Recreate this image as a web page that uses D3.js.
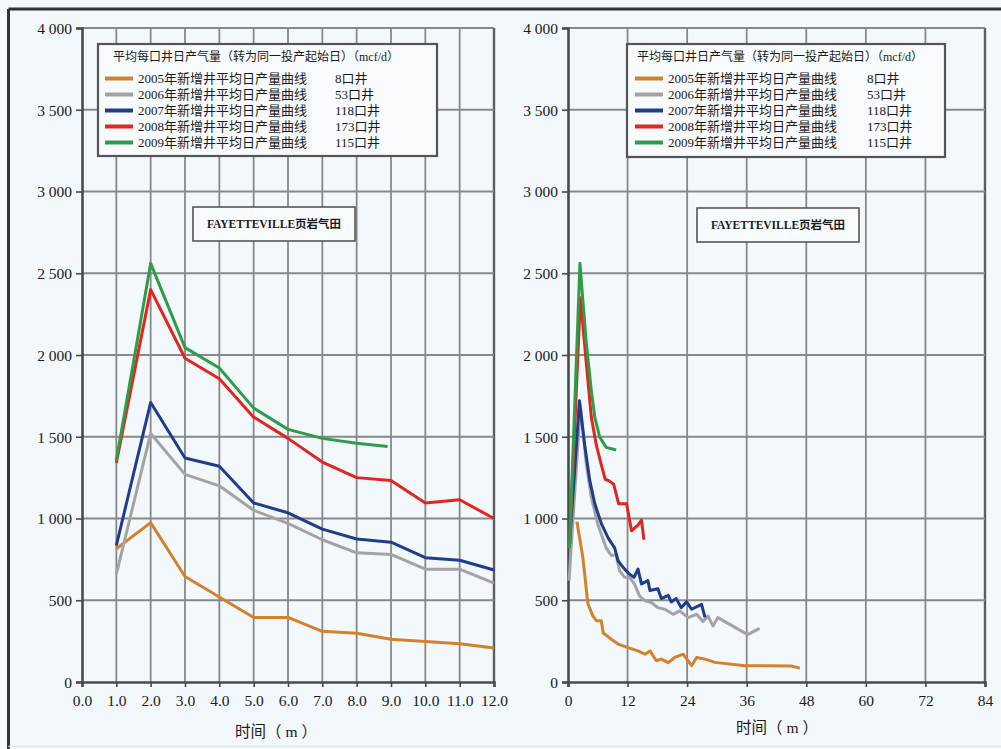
<!DOCTYPE html>
<html><head><meta charset="utf-8">
<script src="https://cdn.jsdelivr.net/npm/d3@7"></script>
<style>
html,body{margin:0;padding:0;background:#f3f8fc;}
svg{display:block;}
text{font-family:"Liberation Serif","Noto Sans CJK SC",serif;fill:#1a1a1a;}
</style></head>
<body>
<svg id="c" width="1001" height="749"></svg>
<script>
// ---- data ----
const seriesNames = ["2005年新增井平均日产量曲线","2006年新增井平均日产量曲线","2007年新增井平均日产量曲线","2008年新增井平均日产量曲线","2009年新增井平均日产量曲线"];
const wellCounts = ["8口井","53口井","118口井","173口井","115口井"];
const seriesColors = ["#d4822a","#a3a3a3","#1f3d8c","#e2251e","#2f9c47"];
const legendTitle = "平均每口井日产气量（转为同一投产起始日）（mcf/d）";
const fieldLabel = "FAYETTEVILLE页岩气田";
const xLabel = "时间（ m ）";
const yTicks = [0,500,1000,1500,2000,2500,3000,3500,4000];
const leftXTicks = [0,1,2,3,4,5,6,7,8,9,10,11,12];
const rightXTicks = [0,12,24,36,48,60,72,84];

// left panel: monthly (month, mcf/d)
const left2005 = [[1,815],[2,975],[3,645],[4,520],[5,395],[6,395],[7,310],[8,298],[9,262],[10,247],[11,234],[12,208]];
const left2006 = [[1,660],[2,1520],[3,1270],[4,1200],[5,1050],[6,970],[7,870],[8,790],[9,780],[10,690],[11,690],[12,605]];
const left2007 = [[1,835],[2,1710],[3,1370],[4,1320],[5,1095],[6,1035],[7,935],[8,875],[9,855],[10,760],[11,745],[12,685]];
const left2008 = [[1,1340],[2,2400],[3,1980],[4,1855],[5,1620],[6,1490],[7,1345],[8,1250],[9,1232],[10,1095],[11,1115],[12,1000]];
const left2009 = [[1,1355],[2,2560],[3,2045],[4,1920],[5,1675],[6,1545],[7,1490],[8,1460],[8.9,1440]];

// right panel: full history (month, mcf/d)
const right2005 = [[1.8,980],[3.0,760],[4.0,480],[5.0,405],[5.7,375],[6.7,375],[7.1,300],[8.7,262],[10.1,232],[12.1,210],[14.1,190],[15.5,170],[16.5,190],[17.8,130],[18.8,140],[20.2,118],[21.5,150],[23.2,170],[24.9,100],[25.9,150],[27.6,140],[29.6,120],[35.6,100],[45,98],[46.7,85]];
const right2006 = [[0.2,620],[2.5,1690],[3.7,1330],[4.7,1130],[6.0,965],[7.7,820],[8.7,775],[9.7,775],[10.4,680],[11.4,640],[12.4,640],[13.4,598],[14.4,527],[15.5,496],[16.8,486],[18.1,455],[19.5,445],[21.2,414],[22.5,435],[24.2,394],[25.9,414],[27.2,370],[28.2,404],[29.2,343],[30.2,394],[36.2,290],[38.6,328]];
const right2007 = [[0.3,840],[2.3,1720],[3.4,1440],[4.4,1230],[5.4,1090],[6.7,970],[8.1,880],[9.4,820],[10.1,740],[11.4,690],[12.4,660],[13.3,640],[14.1,690],[14.8,600],[16.1,620],[16.5,560],[18.1,570],[18.8,510],[20.2,530],[20.8,490],[21.8,510],[22.8,455],[23.9,490],[24.9,445],[26.9,475],[27.6,395]];
const right2008 = [[0.3,830],[2.5,2350],[3.6,1980],[4.7,1620],[5.7,1450],[6.7,1330],[7.5,1240],[8.3,1230],[9.2,1210],[10.2,1090],[11.8,1090],[12.8,925],[14.1,960],[14.8,990],[15.3,870]];
const right2009 = [[0.3,820],[2.4,2560],[3.7,2068],[4.7,1782],[5.4,1619],[6.4,1497],[7.7,1435],[9.7,1419]];

const leftSeries = [left2005,left2006,left2007,left2008,left2009];
const rightSeries = [right2005,right2006,right2007,right2008,right2009];

// ---- drawing ----
const svg = d3.select("#c");
const fmtY = v => d3.format(",")(v).replace(/,/g," ");

// outer frame
svg.append("line").attr("x1",8.5).attr("x2",1001).attr("y1",9).attr("y2",9).attr("stroke","#333").attr("stroke-width",3);
svg.append("line").attr("x1",8.5).attr("x2",8.5).attr("y1",9).attr("y2",749).attr("stroke","#333").attr("stroke-width",3);
svg.append("line").attr("x1",8.5).attr("x2",1001).attr("y1",746.5).attr("y2",746.5).attr("stroke","#dfe5ea").attr("stroke-width",1.5);

function panel(opt){
  const x = d3.scaleLinear().domain(opt.xDomain).range(opt.xRange);
  const y = d3.scaleLinear().domain([0,4000]).range([682,28]);
  const g = svg.append("g");
  // grid
  g.selectAll(".vg").data(opt.xTicks.slice(1)).enter().append("line")
    .attr("x1",d=>x(d)).attr("x2",d=>x(d)).attr("y1",y(4000)).attr("y2",y(0))
    .attr("stroke", (d,i)=> i===opt.xTicks.length-2 ? "#5e5e5e" : "#888").attr("stroke-width",(d,i)=> i===opt.xTicks.length-2 ? 2.4 : 1.8);
  g.selectAll(".hg").data(yTicks.slice(1)).enter().append("line")
    .attr("x1",x.range()[0]).attr("x2",x.range()[1]).attr("y1",d=>y(d)).attr("y2",d=>y(d))
    .attr("stroke","#888").attr("stroke-width",1.8);
  // axes
  const ya = g.append("g").attr("transform",`translate(${x.range()[0]},0)`)
    .call(d3.axisLeft(y).tickValues(yTicks).tickFormat(fmtY).tickSize(6).tickPadding(4));
  const xa = g.append("g").attr("transform",`translate(0,${y(0)})`)
    .call(d3.axisBottom(x).tickValues(opt.xTicks).tickFormat(opt.xFmt).tickSize(5).tickPadding(8));
  [ya,xa].forEach(a=>{
    a.select(".domain").attr("stroke","#4a4a4a").attr("stroke-width",2.6);
    a.selectAll(".tick line").attr("stroke","#4a4a4a").attr("stroke-width",1.6);
    a.selectAll("text").attr("font-size",15.5).attr("fill","#1a1a1a").attr("font-family","Liberation Serif");
  });
  ya.selectAll("text").attr("dy","0.35em");
  // series
  const line = d3.line().x(d=>x(d[0])).y(d=>y(d[1]));
  opt.series.forEach((s,i)=>{
    g.append("path").datum(s).attr("d",line).attr("fill","none")
      .attr("stroke",seriesColors[i]).attr("stroke-width",3).attr("stroke-linejoin","round");
  });
  // legend
  const L = opt.legend;
  const lg = g.append("g");
  lg.append("rect").attr("x",L.x).attr("y",L.y).attr("width",L.w).attr("height",L.h)
    .attr("fill","#f8fbfd").attr("stroke","#555").attr("stroke-width",2.2);
  lg.append("text").attr("x",L.x+L.tx).attr("y",L.y+17).attr("font-size",12).text(legendTitle);
  seriesNames.forEach((n,i)=>{
    const yy = L.y+34.5+i*16;
    lg.append("line").attr("x1",L.x+L.sx).attr("x2",L.x+L.sx+28).attr("y1",yy).attr("y2",yy)
      .attr("stroke",seriesColors[i]).attr("stroke-width",4);
    lg.append("text").attr("x",L.x+L.sx+33).attr("y",yy).attr("dy","0.36em").attr("font-size",13).text(n);
    lg.append("text").attr("x",L.x+L.cx).attr("y",yy).attr("dy","0.36em").attr("font-size",13).text(wellCounts[i]);
  });
  // field label box
  const F = opt.field;
  g.append("rect").attr("x",F.x).attr("y",F.y).attr("width",162).attr("height",34)
    .attr("fill","#f8fbfd").attr("stroke","#555").attr("stroke-width",1.6);
  g.append("text").attr("x",F.x+81).attr("y",F.y+17).attr("dy","0.36em").attr("text-anchor","middle")
    .attr("font-size",11.5).attr("font-weight","bold").text(fieldLabel);
  // x label
  g.append("text").attr("x",opt.xlab[0]).attr("y",opt.xlab[1]).attr("dy","0.36em").attr("text-anchor","middle")
    .attr("font-size",15.5).text(xLabel);
}

panel({xDomain:[0,12], xRange:[82,494], xTicks:leftXTicks, xFmt:d3.format(".1f"), series:leftSeries,
  legend:{x:98,y:44,w:339,h:112,tx:15,sx:7,cx:237}, field:{x:193,y:207}, xlab:[276,731]});
panel({xDomain:[0,84], xRange:[568,985], xTicks:rightXTicks, xFmt:d3.format("d"), series:rightSeries,
  legend:{x:627,y:44,w:318,h:113,tx:10,sx:8,cx:240}, field:{x:697,y:208}, xlab:[777,727]});
</script>
</body></html>
